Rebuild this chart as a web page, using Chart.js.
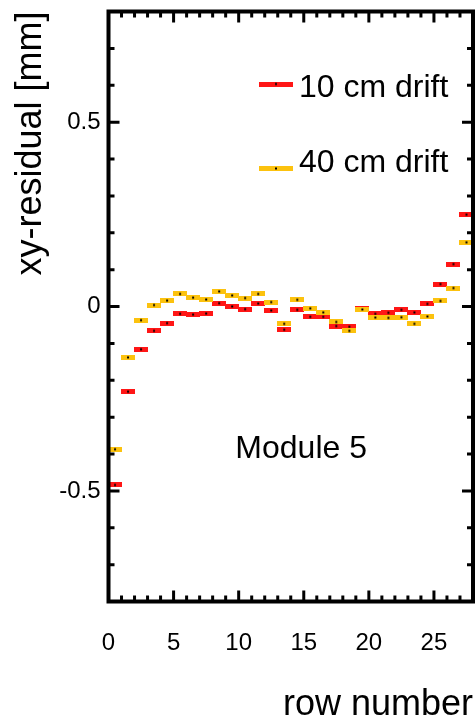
<!DOCTYPE html>
<html lang="en">
<head>
  <meta charset="UTF-8" />
  <title>xy-residual vs row number – Module 5</title>
  <script src="https://cdn.jsdelivr.net/npm/chart.js"></script>
  <style>
    html, body { margin: 0; padding: 0; background: #fff; overflow: hidden; }
    #wrap { position: relative; width: 475px; height: 722px; }
  </style>
</head>
<body>
<div id="wrap"><canvas id="resChart"></canvas></div>

<script>
  // row centres (x) and residuals in mm
  const rows = [0.5, 1.5, 2.5, 3.5, 4.5, 5.5, 6.5, 7.5, 8.5, 9.5, 10.5, 11.5, 12.5, 13.5,
                14.5, 15.5, 16.5, 17.5, 18.5, 19.5, 20.5, 21.5, 22.5, 23.5, 24.5, 25.5, 26.5, 27.5];
  const drift10 = [-0.484, -0.231, -0.116, -0.066, -0.045, -0.020, -0.022, -0.019, 0.009, 0.000,
                   -0.007, 0.008, -0.011, -0.063, -0.009, -0.028, -0.028, -0.053, -0.055, -0.005,
                   -0.020, -0.017, -0.009, -0.016, 0.007, 0.061, 0.115, 0.249];
  const drift40 = [-0.387, -0.138, -0.037, 0.004, 0.016, 0.034, 0.024, 0.019, 0.041, 0.030,
                   0.023, 0.034, 0.012, -0.047, 0.018, -0.005, -0.016, -0.042, -0.066, -0.008,
                   -0.030, -0.031, -0.029, -0.047, -0.027, 0.015, 0.050, 0.174];
  const seriesNames = ['10 cm drift', '40 cm drift'];
  const xTickLabels = [0, 5, 10, 15, 20, 25];
  const yTickLabels = [-0.5, 0, 0.5];
  const moduleLabel = 'Module 5';

  const RED = '#ff1616';
  const YELLOW = '#fcc20e';
  const FONT = "'Liberation Sans', Arial, sans-serif";
  Chart.defaults.font.family = FONT;
  Chart.defaults.color = '#000';

  // horizontal bar marker (x error bar) with a small black dot in the middle
  function barMarker(color, w, h) {
    const c = document.createElement('canvas');
    c.width = w; c.height = h;
    const g = c.getContext('2d');
    g.fillStyle = color;
    g.fillRect(0, 0, w, h);
    g.fillStyle = '#000';
    g.fillRect(w / 2 - 1, h / 2 - 1, 2, 2);
    return c;
  }

  const toPoints = vals => rows.map((r, i) => ({ x: r, y: vals[i] }));

  // no extra room for end labels: the plot box is fixed
  const noPad = s => { s.paddingTop = s.paddingBottom = s.paddingLeft = s.paddingRight = 0; };

  // frame + inward ticks on all four sides, legend and module label
  const decorations = {
    id: 'decorations',
    afterDatasetsDraw(chart) {
      const { ctx, chartArea: a, scales: { x, y } } = chart;
      ctx.save();
      ctx.strokeStyle = '#000';
      ctx.lineWidth = 3;
      ctx.beginPath();
      x.ticks.forEach(t => {
        const px = x.getPixelForValue(t.value);
        const len = t.value % 5 === 0 ? 11 : 6;
        ctx.moveTo(px, a.bottom); ctx.lineTo(px, a.bottom - len);
        ctx.moveTo(px, a.top); ctx.lineTo(px, a.top + len);
      });
      y.ticks.forEach(t => {
        const py = y.getPixelForValue(t.value);
        const len = Math.round(t.value * 10) % 5 === 0 ? 11 : 6;
        ctx.moveTo(a.left, py); ctx.lineTo(a.left + len, py);
        ctx.moveTo(a.right, py); ctx.lineTo(a.right - len, py);
      });
      ctx.stroke();
      ctx.lineWidth = 4;
      ctx.strokeRect(a.left, a.top, a.right - a.left, a.bottom - a.top);

      // legend (inside, upper right)
      const mk = [barMarker(RED, 34, 5), barMarker(YELLOW, 34, 5)];
      const lx = a.left + 167.5;
      const rowsY = [a.top + 72.5, a.top + 157];
      ctx.font = '32px ' + FONT;
      ctx.fillStyle = '#000';
      ctx.textBaseline = 'alphabetic';
      ctx.textAlign = 'left';
      seriesNames.forEach((name, i) => {
        ctx.drawImage(mk[i], lx - 17, rowsY[i] - 2.5);
        ctx.fillText(name, lx + 23, rowsY[i] + (i === 0 ? 13 : 3.5));
      });

      // module label in data coordinates
      ctx.textAlign = 'center';
      ctx.fillText(moduleLabel, x.getPixelForValue(14.8), y.getPixelForValue(-0.41));
      ctx.restore();
    }
  };

  new Chart(document.getElementById('resChart'), {
    type: 'scatter',
    data: {
      datasets: [
        { label: seriesNames[0], data: toPoints(drift10), pointStyle: barMarker(RED, 14, 5),
          pointRadius: 7, order: 1 },
        { label: seriesNames[1], data: toPoints(drift40), pointStyle: barMarker(YELLOW, 14, 5),
          pointRadius: 7, order: 0 }
      ]
    },
    options: {
      responsive: true,
      maintainAspectRatio: false,
      animation: false,
      devicePixelRatio: 1,
      layout: { autoPadding: false, padding: { top: 11.5, right: 2, left: 0, bottom: 0 } },
      plugins: { legend: { display: false }, tooltip: { enabled: false } },
      scales: {
        x: {
          type: 'linear', min: 0, max: 28,
          grid: { display: false, drawTicks: false },
          border: { display: false },
          ticks: {
            stepSize: 1, autoSkip: false, maxRotation: 0, padding: 30,
            font: { size: 24, lineHeight: 1 },
            callback: v => xTickLabels.includes(v) ? String(v) : ''
          },
          title: {
            display: true, text: 'row number', align: 'end',
            font: { size: 36, lineHeight: 0.92 }, padding: 0
          },
          afterFit: s => { s.height = 120.5; noPad(s); }
        },
        y: {
          type: 'linear', min: -0.8, max: 0.8,
          grid: { display: false, drawTicks: false },
          border: { display: false },
          ticks: {
            stepSize: 0.1, autoSkip: false, padding: 8,
            font: { size: 24, lineHeight: 1 },
            callback: v => {
              const r = Math.round(v * 10) / 10;
              return yTickLabels.includes(r) ? (r === 0 ? '0' : String(r)) : '';
            }
          },
          title: {
            display: true, text: 'xy-residual [mm]', align: 'end',
            font: { size: 36, lineHeight: 1 }, padding: { top: 13.5, bottom: 0 }
          },
          afterFit: s => { s.width = 108.5; noPad(s); }
        }
      }
    },
    plugins: [decorations]
  });
</script>
</body>
</html>
